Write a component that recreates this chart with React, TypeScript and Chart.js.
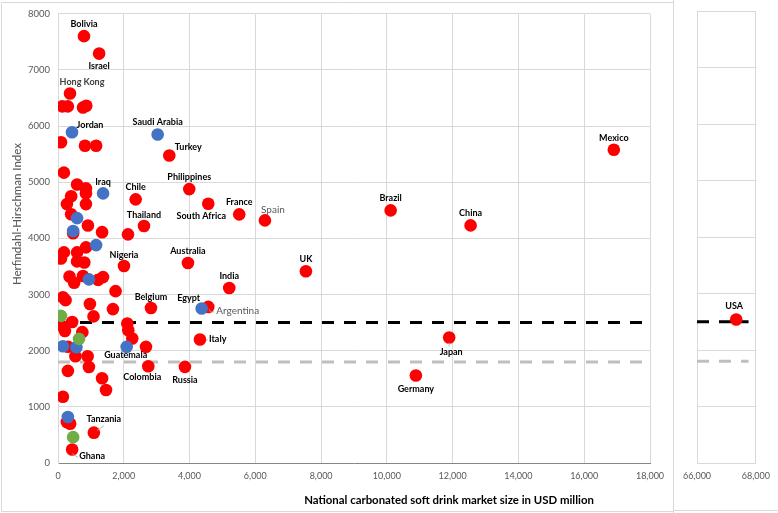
import React, { useEffect, useRef } from 'react';
import { Chart, registerables } from 'chart.js';

Chart.register(...registerables);

// ---------------- DATA ----------------
// Red markers (market size USD million, HHI, label)
const redMarket = [
  790, 1250, 365, 3384, 2362, 3991, 4569, 5511, 6292, 2614, 10114, 12545, 16900,
  2006, 3951, 7538, 5207, 2827, 4569, 4316, 2745, 3860, 11894, 10881, 1090, 430, 67330,
  130, 300, 760, 860, 91, 820, 1160, 180, 580, 850, 850, 400, 270, 850, 400, 460, 910,
  1340, 2128, 850, 180, 580, 91, 580, 800, 350, 490, 760, 1220, 1370, 1750, 150, 230,
  970, 1670, 1080, 430, 150, 210, 740, 2107, 2137, 2258, 2675, 300, 530, 900, 940, 300,
  1340, 1460, 150, 270, 370,
];
const redHHI = [
  7600, 7290, 6580, 5476, 4694, 4877, 4617, 4427, 4320, 4219, 4498, 4231, 5577,
  3508, 3561, 3413, 3117, 2761, 2779, 2199, 1724, 1712, 2235, 1559, 540, 240, 2540,
  6350, 6350, 6330, 6360, 5710, 5650, 5650, 5170, 4960, 4890, 4800, 4750, 4610, 4610, 4430,
  4090, 4230, 4110, 4071, 3840, 3750, 3750, 3640, 3590, 3570, 3320, 3210, 3330, 3260,
  3310, 3060, 2950, 2900, 2830, 2740, 2610, 2510, 2430, 2350, 2330, 2484, 2365, 2217,
  2068, 2070, 1900, 1900, 1710, 1640, 1510, 1300, 1180, 730, 700,
];
const redLabels = [
  'Bolivia', 'Israel', 'Hong Kong', 'Turkey', 'Chile', 'Philippines', 'South Africa', 'France',
  'Spain', 'Thailand', 'Brazil', 'China', 'Mexico', 'Nigeria', 'Australia', 'UK', 'India',
  'Belgium', 'Argentina', 'Italy', 'Colombia', 'Russia', 'Japan', 'Germany', 'Tanzania', 'Ghana', 'USA',
];

// Blue markers
const blueMarket = [425, 3030, 1370, 580, 460, 1160, 940, 4368, 2088, 150, 560, 300];
const blueHHI = [5890, 5849, 4800, 4360, 4130, 3880, 3270, 2750, 2068, 2080, 2060, 820];
const blueLabels = ['Jordan', 'Saudi Arabia', 'Iraq', '', '', '', '', 'Egypt', 'Guatemala'];

// Green markers
const greenMarket = [90, 640, 460];
const greenHHI = [2620, 2210, 460];

// Reference lines (HHI thresholds)
const thresholdHigh = 2500;
const thresholdLow = 1800;
const mainSpan = [0, 18000];
const breakSpan = [66000, 67750];

// Axes
const mainXRange = [0, 18000];
const breakXRange = [66000, 68000];
const yRange = [0, 8000];
const xStep = 2000;
const yStep = 1000;

const xTitle = 'National carbonated soft drink market size in USD million';
const yTitle = 'Herfindahl-Hirschman Index';

// ---------------- STYLE ----------------
const FONT = 'Lato, "Liberation Sans", sans-serif';
const RED = '#FF0000';
const BLUE = '#4472C4';
const GREEN = '#70AD47';
const GRID = '#D9D9D9';
const TICK = '#595959';

type LS = { dx: number; dy: number; align?: CanvasTextAlign; muted?: boolean; color?: string; leader?: number[] };
const labelStyles: Record<string, LS> = {
  Bolivia: { dx: 0, dy: -12 },
  Israel: { dx: 0, dy: 13 },
  'Hong Kong': { dx: 12, dy: -11, color: '#404040' },
  Jordan: { dx: 18, dy: -7 },
  'Saudi Arabia': { dx: 0, dy: -12 },
  Turkey: { dx: 19, dy: -8 },
  Iraq: { dx: 0, dy: -11 },
  Chile: { dx: 0, dy: -12 },
  Philippines: { dx: 0, dy: -12 },
  'South Africa': { dx: -7, dy: 12 },
  France: { dx: 0, dy: -12 },
  Spain: { dx: 8, dy: -11, muted: true },
  Thailand: { dx: 0, dy: -11 },
  Brazil: { dx: 0, dy: -12 },
  China: { dx: 0, dy: -12 },
  Mexico: { dx: 0, dy: -12 },
  Nigeria: { dx: 0, dy: -11 },
  Australia: { dx: 0, dy: -12 },
  UK: { dx: 0, dy: -12 },
  India: { dx: 0, dy: -12 },
  Belgium: { dx: 0, dy: -11 },
  Egypt: { dx: -13, dy: -10 },
  Argentina: { dx: 8, dy: 4, align: 'left', muted: true, leader: [1, 2, 2, 5, 6, 5] },
  Italy: { dx: 9, dy: 0, align: 'left', leader: [6, 1, 8, 0] },
  Guatemala: { dx: -1, dy: 8 },
  Colombia: { dx: -6, dy: 11 },
  Russia: { dx: 0, dy: 13 },
  Japan: { dx: 2, dy: 15, leader: [0, 5, 0, 9] },
  Germany: { dx: 0, dy: 14 },
  Tanzania: { dx: 10, dy: -14, leader: [3, -2, 10, -7] },
  Ghana: { dx: 20, dy: 7, leader: [0, 4, 6, 8] },
  USA: { dx: -2, dy: -13 },
};

const fmt = (v: number) => Math.round(v).toLocaleString('en-US');

function pts(xs: number[], ys: number[]) {
  return xs.map((x, i) => ({ x, y: ys[i] }));
}

function buildDatasets(span: number[]) {
  return [
    { data: pts(greenMarket, greenHHI), backgroundColor: GREEN, pointRadius: 6.3, borderWidth: 0, order: 0, labelTexts: [] },
    { data: pts(blueMarket, blueHHI), backgroundColor: BLUE, pointRadius: 6.3, borderWidth: 0, order: 1, labelTexts: blueLabels },
    { data: pts(redMarket, redHHI), backgroundColor: RED, pointRadius: 6.3, borderWidth: 0, order: 2, labelTexts: redLabels },
    {
      data: span.map((x) => ({ x, y: thresholdHigh })), showLine: true, borderColor: '#000000', borderWidth: 3,
      borderDash: [12, 10], pointRadius: 0, order: 4,
    },
    {
      data: span.map((x) => ({ x, y: thresholdLow })), showLine: true, borderColor: '#BFBFBF', borderWidth: 3,
      borderDash: [12, 10], pointRadius: 0, order: 5,
    },
  ] as any[];
}

const labelPlugin = {
  id: 'pointLabels',
  afterDatasetsDraw(chart: any) {
    const ctx = chart.ctx as CanvasRenderingContext2D;
    const xs = chart.scales.x;
    chart.data.datasets.forEach((ds: any, di: number) => {
      const texts: string[] = ds.labelTexts;
      if (!texts) return;
      const meta = chart.getDatasetMeta(di);
      meta.data.forEach((el: any, i: number) => {
        const t = texts[i];
        if (!t) return;
        const v = ds.data[i].x;
        if (v < xs.min || v > xs.max) return;
        const st = labelStyles[t] || { dx: 0, dy: -12 };
        ctx.save();
        if (st.leader) {
          ctx.strokeStyle = '#A6A6A6';
          ctx.lineWidth = 0.8;
          ctx.beginPath();
          for (let k = 0; k < st.leader.length; k += 2) {
            const px = el.x + st.leader[k];
            const py = el.y + st.leader[k + 1];
            if (k === 0) ctx.moveTo(px, py);
            else ctx.lineTo(px, py);
          }
          ctx.stroke();
        }
        ctx.font = st.muted ? `10px ${FONT}` : `bold 9px ${FONT}`;
        ctx.fillStyle = st.muted ? '#595959' : st.color || '#000000';
        ctx.textAlign = st.align || 'center';
        ctx.textBaseline = 'middle';
        ctx.fillText(t, el.x + st.dx, el.y + st.dy);
        ctx.restore();
      });
    });
  },
};

// fit a text to a target width by choosing the font size
function fitFont(ctx: CanvasRenderingContext2D, text: string, weight: string, target: number) {
  ctx.font = `${weight} 12px ${FONT}`;
  const w = ctx.measureText(text).width;
  const size = (12 * target) / w;
  ctx.font = `${weight} ${size.toFixed(2)}px ${FONT}`;
}

const mainDecor = {
  id: 'mainDecor',
  beforeDraw(chart: any) {
    const ctx = chart.ctx as CanvasRenderingContext2D;
    ctx.save();
    ctx.fillStyle = '#FFFFFF';
    ctx.fillRect(0, 0, chart.width, chart.height);
    ctx.strokeStyle = GRID;
    ctx.lineWidth = 1;
    ctx.beginPath();
    ctx.moveTo(1.5, 2.5);
    ctx.lineTo(673.5, 2.5);
    ctx.moveTo(1.5, 2.5);
    ctx.lineTo(1.5, 511.5);
    ctx.lineTo(673.5, 511.5);
    ctx.moveTo(673.5, 0);
    ctx.lineTo(673.5, 513);
    ctx.stroke();
    ctx.restore();
  },
  afterDraw(chart: any) {
    const ctx = chart.ctx as CanvasRenderingContext2D;
    ctx.save();
    ctx.fillStyle = '#000000';
    fitFont(ctx, xTitle, 'bold', 290);
    ctx.textAlign = 'center';
    ctx.textBaseline = 'middle';
    ctx.fillText(xTitle, 449, 500);
    ctx.translate(17, 214);
    ctx.rotate(-Math.PI / 2);
    ctx.fillStyle = TICK;
    fitFont(ctx, yTitle, '500', 142);
    ctx.fillText(yTitle, 0, 0);
    ctx.restore();
  },
};

const breakDecor = {
  id: 'breakDecor',
  beforeDraw(chart: any) {
    const ctx = chart.ctx as CanvasRenderingContext2D;
    ctx.save();
    ctx.fillStyle = '#FFFFFF';
    ctx.fillRect(0, 0, chart.width, chart.height);
    ctx.strokeStyle = GRID;
    ctx.lineWidth = 1;
    ctx.beginPath();
    ctx.moveTo(0, 510.5);
    ctx.lineTo(chart.width, 510.5);
    ctx.stroke();
    ctx.restore();
  },
};

function scaleOpts(xr: number[], showY: boolean, yWidth: number, xBorder: string) {
  return {
    x: {
      type: 'linear',
      min: xr[0],
      max: xr[1],
      ticks: {
        stepSize: xStep,
        callback: (v: any) => fmt(Number(v)),
        color: TICK,
        font: { family: FONT, size: 9 },
        padding: 8,
        maxRotation: 0,
        autoSkip: false,
      },
      grid: { color: GRID, drawTicks: false, lineWidth: 1 },
      border: { color: xBorder, width: 1 },
      afterFit: (s: any) => {
        s.height = 50;
      },
    },
    y: {
      type: 'linear',
      min: yRange[0],
      max: yRange[1],
      ticks: {
        stepSize: yStep,
        display: showY,
        color: TICK,
        font: { family: FONT, size: 9.5 },
        padding: 8,
        callback: (v: any) => String(v),
      },
      grid: {
        color: (c: any) => (c.tick && c.tick.value === 0 && showY ? 'rgba(0,0,0,0)' : GRID),
        drawTicks: false,
        lineWidth: 1,
      },
      border: { color: GRID, width: 1 },
      afterFit: (s: any) => {
        s.width = yWidth;
      },
    },
  };
}

export default function App() {
  const mainRef = useRef<HTMLCanvasElement>(null);
  const breakRef = useRef<HTMLCanvasElement>(null);

  useEffect(() => {
    const common = {
      animation: false,
      responsive: false,
      events: [],
      plugins: { legend: { display: false }, tooltip: { enabled: false } },
    };
    const main = new Chart(mainRef.current as HTMLCanvasElement, {
      type: 'scatter',
      data: { datasets: buildDatasets(mainSpan) },
      options: {
        ...common,
        layout: { padding: { top: 13, right: 24, left: 0, bottom: 0 } },
        scales: scaleOpts(mainXRange, true, 58, '#868686'),
      } as any,
      plugins: [mainDecor, labelPlugin],
    });
    const brk = new Chart(breakRef.current as HTMLCanvasElement, {
      type: 'scatter',
      data: { datasets: buildDatasets(breakSpan) },
      options: {
        ...common,
        layout: { padding: { top: 11, right: 21, left: 0, bottom: 0 } },
        scales: scaleOpts(breakXRange, false, 23, GRID),
      } as any,
      plugins: [breakDecor, labelPlugin],
    });
    return () => {
      main.destroy();
      brk.destroy();
    };
  }, []);

  return (
    <div style={{ position: 'fixed', left: 0, top: 0, width: 778, height: 513, background: '#fff' }}>
      <canvas ref={mainRef} width={674} height={513} style={{ position: 'absolute', left: 0, top: 0, width: 674, height: 513 }} />
      <canvas ref={breakRef} width={104} height={513} style={{ position: 'absolute', left: 674, top: 0, width: 104, height: 513 }} />
    </div>
  );
}
